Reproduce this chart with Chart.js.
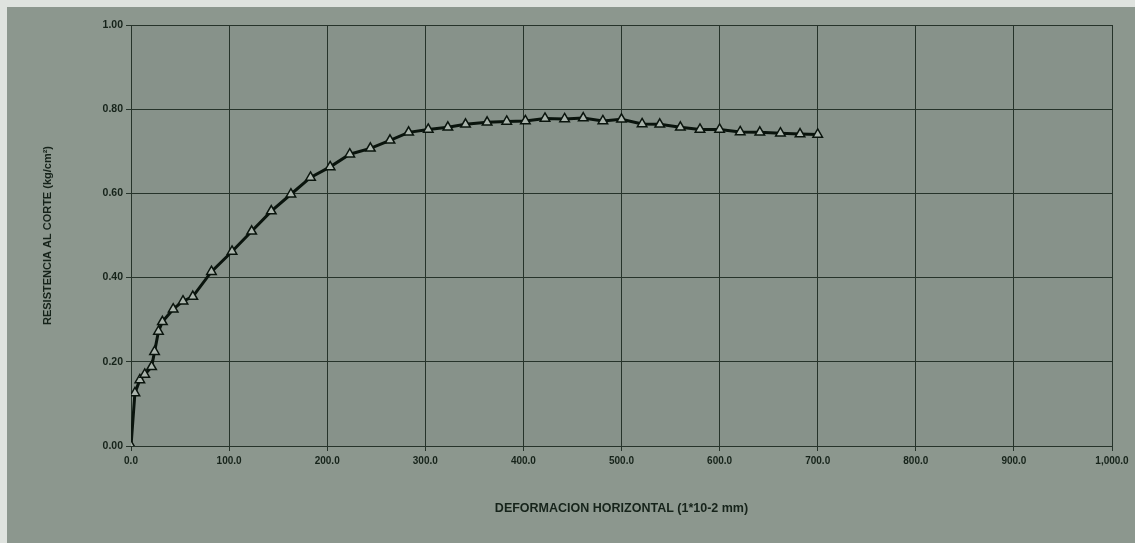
<!DOCTYPE html>
<html>
<head>
<meta charset="utf-8">
<title>Resistencia al corte vs deformación horizontal</title>
<script src="https://cdn.jsdelivr.net/npm/chart.js@4.4.1/dist/chart.umd.min.js"></script>
<style>
  html, body { margin: 0; padding: 0; background: #dfe3df; }
  #wrap { width: 1135px; height: 543px; position: relative; }
  canvas { display: block; }
</style>
</head>
<body>
<div id="wrap"><canvas id="chart" width="1135" height="543"></canvas></div>
<script>
// Horizontal deformation (1*10-2 mm)
const deformacion = [0, 4, 9, 14, 21, 24, 28, 32, 43, 53, 63, 82, 103, 123, 143, 163, 183, 203, 223, 244, 264, 283, 303, 323, 341, 363, 383, 402, 422, 442, 461, 481, 500, 521, 539, 560, 580, 600, 621, 641, 662, 682, 700];
// Shear strength (kg/cm2)
const resistencia = [0.000, 0.126, 0.157, 0.170, 0.188, 0.224, 0.272, 0.295, 0.325, 0.344, 0.355, 0.414, 0.462, 0.510, 0.558, 0.598, 0.638, 0.663, 0.693, 0.707, 0.726, 0.745, 0.752, 0.757, 0.764, 0.769, 0.771, 0.772, 0.778, 0.777, 0.779, 0.772, 0.776, 0.765, 0.764, 0.757, 0.752, 0.752, 0.746, 0.745, 0.743, 0.741, 0.740];
// Axis ticks
const xTicks = [0, 100, 200, 300, 400, 500, 600, 700, 800, 900, 1000];
const yTicks = [0.00, 0.20, 0.40, 0.60, 0.80, 1.00];

const ink = '#16231a';
const grid = '#26332a';

// Sheet and plot-area fills
const backdrop = {
  id: 'backdrop',
  beforeDraw(chart) {
    const { ctx, chartArea } = chart;
    ctx.save();
    ctx.fillStyle = '#dfe3df';
    ctx.fillRect(0, 0, chart.width, chart.height);
    ctx.fillStyle = '#8c978e';
    ctx.fillRect(7, 7, chart.width - 7, chart.height - 7);
    ctx.fillStyle = '#87928a';
    ctx.fillRect(chartArea.left, chartArea.top, chartArea.right - chartArea.left, chartArea.bottom - chartArea.top);
    ctx.restore();
  }
};

const points = deformacion.map((x, i) => ({ x, y: resistencia[i] }));

new Chart(document.getElementById('chart'), {
  type: 'scatter',
  data: {
    datasets: [{
      data: points,
      showLine: true,
      borderColor: '#0a140d',
      borderWidth: 3,
      pointStyle: 'triangle',
      pointRadius: 5.5,
      pointBorderWidth: 1.5,
      pointBorderColor: '#0a140d',
      pointBackgroundColor: '#aab4ac',
      tension: 0
    }]
  },
  plugins: [backdrop],
  options: {
    responsive: false,
    animation: false,
    events: [],
    layout: { padding: { left: 0, top: 25, right: 23, bottom: 0 } },
    plugins: { legend: { display: false }, tooltip: { enabled: false } },
    scales: {
      x: {
        type: 'linear',
        min: 0, max: 1000,
        afterBuildTicks(scale) { scale.ticks = xTicks.map(v => ({ value: v })); },
        afterFit(scale) { scale.height = 97; },
        grid: { color: grid, lineWidth: 1, tickLength: 5, tickColor: grid },
        border: { color: grid, width: 1 },
        ticks: {
          color: ink,
          font: { family: 'Liberation Sans', size: 10, weight: 'bold' },
          padding: 4,
          maxRotation: 0,
          callback: v => v === 1000 ? '1,000.0' : v.toFixed(1)
        },
        title: {
          display: true,
          text: 'DEFORMACION HORIZONTAL (1*10-2 mm)',
          color: ink,
          font: { family: 'Liberation Sans', size: 12.5, weight: 'bold' },
          padding: { top: 0, bottom: 27 }
        }
      },
      y: {
        min: 0, max: 1,
        afterBuildTicks(scale) { scale.ticks = yTicks.map(v => ({ value: v })); },
        afterFit(scale) { scale.width = 131; },
        grid: { color: grid, lineWidth: 1, tickLength: 5, tickColor: grid },
        border: { color: grid, width: 1 },
        ticks: {
          color: ink,
          font: { family: 'Liberation Sans', size: 10.5, weight: 'bold' },
          padding: 3,
          callback: v => v.toFixed(2)
        },
        title: {
          display: true,
          text: 'RESISTENCIA AL CORTE (kg/cm²)',
          color: ink,
          font: { family: 'Liberation Sans', size: 11, weight: 'bold' },
          padding: { top: 41, bottom: 0 }
        }
      }
    }
  }
});
</script>
</body>
</html>
